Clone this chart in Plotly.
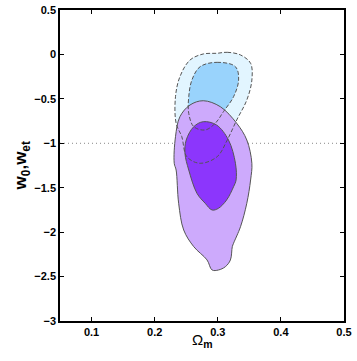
import plotly.graph_objects as go

# Contour outlines (Omega_m, w)
blue_outer_x = [0.299, 0.315, 0.336, 0.352, 0.354, 0.346, 0.330, 0.315, 0.299, 0.272,
                0.251, 0.243, 0.234, 0.233, 0.240, 0.256, 0.277]
blue_outer_y = [0.013, 0.024, -0.006, -0.100, -0.288, -0.513, -0.738, -0.963, -1.151, -1.225,
                -1.151, -0.926, -0.775, -0.476, -0.251, -0.063, 0.005]

blue_inner_x = [0.272, 0.299, 0.328, 0.333, 0.325, 0.309, 0.296, 0.280, 0.262, 0.254, 0.254, 0.259]
blue_inner_y = [-0.138, -0.089, -0.138, -0.288, -0.476, -0.644, -0.775, -0.850, -0.813, -0.663,
                -0.476, -0.288]

purple_outer_x = [0.277, 0.304, 0.330, 0.346, 0.354, 0.352, 0.346, 0.336, 0.325, 0.323, 0.320,
                  0.312, 0.301, 0.291, 0.283, 0.262, 0.246, 0.238, 0.234, 0.231, 0.233, 0.240, 0.256]
purple_outer_y = [-0.521, -0.588, -0.775, -0.963, -1.225, -1.413, -1.675, -1.939, -2.125, -2.164,
                  -2.313, -2.389, -2.426, -2.426, -2.313, -2.164, -1.976, -1.675, -1.301, -1.225,
                  -0.926, -0.701, -0.569]

purple_inner_x = [0.277, 0.298, 0.317, 0.328, 0.329, 0.325, 0.314, 0.301, 0.291, 0.280, 0.267,
                  0.254, 0.248, 0.250, 0.262]
purple_inner_y = [-0.757, -0.794, -0.963, -1.225, -1.413, -1.489, -1.638, -1.732, -1.751, -1.675,
                  -1.563, -1.301, -1.113, -0.963, -0.813]

w_ref = -1.0

FONT = "Liberation Sans, Arial"


def closed(xs, ys):
    return xs + xs[:1], ys + ys[:1]


def region(xs, ys, fill, outline=True):
    cx, cy = closed(xs, ys)
    return go.Scatter(
        x=cx, y=cy, mode="lines", fill="toself", fillcolor=fill,
        line=dict(color="#555555" if outline else "rgba(0,0,0,0)", width=1,
                  shape="spline", smoothing=1.0),
        hoverinfo="skip", showlegend=False,
    )


def outline(xs, ys):
    cx, cy = closed(xs, ys)
    return go.Scatter(
        x=cx, y=cy, mode="lines",
        line=dict(color="#555555", width=1, dash="4px,2px", shape="spline", smoothing=1.0),
        hoverinfo="skip", showlegend=False,
    )


fig = go.Figure()

# reference line w = -1
fig.add_trace(go.Scatter(x=[0.05, 0.5], y=[w_ref, w_ref], mode="lines",
                         line=dict(color="#888888", width=1, dash="1px,3px"),
                         hoverinfo="skip", showlegend=False))

fig.add_trace(region(blue_outer_x, blue_outer_y, "#e2f5ff", outline=False))
fig.add_trace(region(blue_inner_x, blue_inner_y, "#99d3fc", outline=False))
fig.add_trace(region(purple_outer_x, purple_outer_y, "#cdaafc"))
fig.add_trace(region(purple_inner_x, purple_inner_y, "#8c36fc"))

# dashed blue outlines drawn over the purple regions
fig.add_trace(outline(blue_outer_x, blue_outer_y))
fig.add_trace(outline(blue_inner_x, blue_inner_y))

axis_common = dict(
    showline=True, linecolor="black", linewidth=1.5, mirror="ticks",
    ticks="inside", ticklen=4, tickwidth=1, tickcolor="black",
    showgrid=False, zeroline=False, automargin=False,
    tickfont=dict(family=FONT, size=11, color="black", weight="bold"),
)

fig.update_layout(
    width=357, height=361,
    margin=dict(l=60, r=13, t=10, b=40),
    plot_bgcolor="white", paper_bgcolor="white",
    xaxis=dict(range=[0.05, 0.5], tickvals=[0.1, 0.2, 0.3, 0.4, 0.5],
               ticktext=["0.1", "0.2", "0.3", "0.4", "0.5"], **axis_common),
    yaxis=dict(range=[-3, 0.5], tickvals=[-3, -2.5, -2, -1.5, -1, -0.5, 0, 0.5],
               **axis_common),
    annotations=[
        dict(text="Ω<sub><b>m</b></sub>", xref="paper", yref="paper", x=0.5, y=-0.025,
             xanchor="center", yanchor="top", showarrow=False,
             font=dict(family=FONT, size=15, color="black")),
        dict(text="<b>w<sub>0</sub>,w<sub>et</sub></b>", xref="paper", yref="paper",
             x=-0.134, y=0.5, xanchor="center", yanchor="middle", textangle=-90,
             showarrow=False, font=dict(family=FONT, size=17, color="black")),
    ],
)

# drop the default 8px body margin so the figure fills the window
fig.write_html("out.html", config={"displayModeBar": False},
               post_script="document.body.style.margin='0';")
